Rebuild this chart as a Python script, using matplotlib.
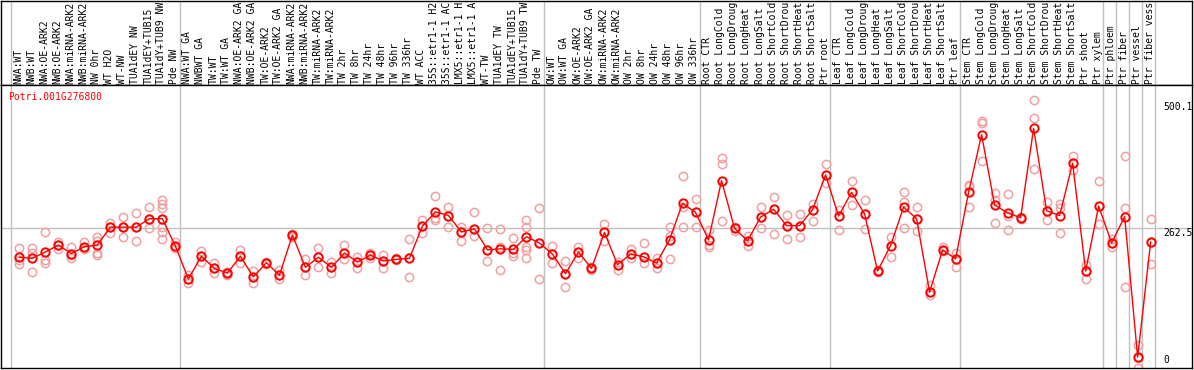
import matplotlib
matplotlib.use('Agg')
import matplotlib.pyplot as plt
import numpy as np

gene = 'Potri.001G276800'

# sample names as shown (the chart cuts them at 14 characters)
samples = ['NWA:WT', 'NWB:WT', 'NWA:OE-ARK2', 'NWB:OE-ARK2', 'NWA:miRNA-ARK2',
           'NWB:miRNA-ARK2', 'NW 0hr', 'WT H2O', 'WT-NW', 'TUA1dEY NW',
           'TUA1dEY+TUB15', 'TUA1dY+TUB9 NW', 'Pde NW',
           'NWA:WT GA', 'NWBWT GA', 'TW:WT', 'TW:WT GA', 'NWA:OE-ARK2 GA',
           'NWB:OE-ARK2 GA', 'TW:OE-ARK2', 'TW:OE-ARK2 GA', 'NWA:miRNA-ARK2',
           'NWB:miRNA-ARK2', 'TW:miRNA-ARK2', 'TW:miRNA-ARK2', 'TW 2hr', 'TW 8hr',
           'TW 24hr', 'TW 48hr', 'TW 96hr', 'TW 336hr', 'WT ACC', '35S::etr1-1 H2',
           '35S::etr1-1 AC', 'LMX5::etr1-1 H', 'LMX5::etr1-1 A', 'WT-TW',
           'TUA1dEY TW', 'TUA1dEY+TUB15', 'TUA1dY+TUB9 TW', 'Pde TW',
           'OW:WT', 'OW:WT GA', 'OW:OE-ARK2', 'OW:OE-ARK2 GA', 'OW:miRNA-ARK2',
           'OW:miRNA-ARK2', 'OW 2hr', 'OW 8hr', 'OW 24hr', 'OW 48hr', 'OW 96hr',
           'OW 336hr',
           'Root CTR', 'Root LongCold', 'Root LongDroug', 'Root LongHeat',
           'Root LongSalt', 'Root ShortCold', 'Root ShortDrou', 'Root ShortHeat',
           'Root ShortSalt', 'Ptr root',
           'Leaf CTR', 'Leaf LongCold', 'Leaf LongDroug', 'Leaf LongHeat',
           'Leaf LongSalt', 'Leaf ShortCold', 'Leaf ShortDrou', 'Leaf ShortHeat',
           'Leaf ShortSalt', 'Ptr leaf',
           'Stem CTR', 'Stem LongCold', 'Stem LongDroug', 'Stem LongHeat',
           'Stem LongSalt', 'Stem ShortCold', 'Stem ShortDrou', 'Stem ShortHeat',
           'Stem ShortSalt', 'Ptr shoot', 'Ptr xylem',
           'Ptr phloem', 'Ptr fiber', 'Ptr vessel', 'Ptr fiber vess']

# samples per group (separator lines drawn between groups)
group_sizes = [13, 28, 12, 10, 10, 11, 1, 1, 1, 1]

means = [207, 205, 217, 230, 214, 227, 230, 264, 264, 264, 280, 280, 228,
         166, 209, 186, 177, 209, 170, 197, 173, 249, 188, 207, 188, 215, 198,
         211, 200, 203, 205, 266, 293, 286, 255, 261, 221, 223, 222, 246, 234,
         213, 176, 217, 186, 254, 193, 213, 208, 196, 240, 309, 292,
         240, 352, 262, 238, 283, 298, 267, 267, 297, 363,
         285, 330, 289, 181, 229, 302, 280, 141, 221, 204,
         330, 439, 306, 291, 282, 451, 295, 286, 385, 181, 304,
         234, 284, 18, 236]

reps = [[224, 202, 194], [224, 216, 179], [254, 202, 196], [235, 230, 222],
        [227, 211, 205], [235, 227, 222], [246, 237, 215, 212], [271, 264, 253],
        [284, 264, 245], [290, 264, 237], [302, 279, 262],
        [315, 308, 300, 279, 265, 255, 241], [235, 228, 224],
        [174, 166, 159], [219, 209, 199], [196, 186, 178], [179, 177, 174],
        [221, 209, 196], [181, 170, 158], [199, 197, 195], [182, 173, 165],
        [252, 249, 246], [204, 188, 173], [224, 207, 188], [199, 188, 178],
        [230, 215, 203], [208, 198, 186], [216, 211, 205], [211, 200, 187],
        [205, 203, 201], [241, 205, 170], [278, 266, 253], [323, 281, 278],
        [302, 286, 265], [265, 255, 238], [293, 261, 248], [262, 221, 200],
        [260, 226, 182], [243, 223, 215, 210], [278, 265, 245, 227, 221, 205],
        [300, 234, 166],
        [229, 213, 196], [200, 176, 150], [227, 217, 206], [189, 186, 183],
        [270, 254, 238], [199, 193, 183], [222, 213, 205], [234, 208, 197],
        [205, 196, 186], [265, 247, 203], [360, 303, 265], [317, 292, 265],
        [259, 230, 226], [395, 383, 276], [265, 262, 256], [247, 238, 229],
        [302, 283, 262], [321, 298, 251], [287, 267, 241], [289, 267, 246],
        [308, 297, 275], [383, 363, 348],
        [297, 285, 259], [352, 330, 306], [316, 289, 260], [183, 181, 179],
        [246, 229, 207], [331, 312, 262], [302, 280, 257], [155, 141, 136],
        [227, 221, 218], [215, 204, 188],
        [344, 341, 303], [465, 462, 389], [328, 316, 271], [326, 285, 259],
        [284, 282, 280], [505, 470, 374], [312, 295, 278], [308, 300, 253],
        [399, 385, 372], [193, 181, 166], [352, 304, 270],
        [241, 234, 227], [399, 300, 150], [41, 17, -3], [279, 236, 194]]

y_ticks = [0, 262.5, 500.1]

W, H = 1194, 370
fig = plt.figure(figsize=(W / 100, H / 100), dpi=100)
mono = 'DejaVu Sans Mono'
fs = 7.0

x = np.arange(len(samples))
xlim = (-1.41, 90.18)
bounds = np.concatenate([[0], np.cumsum(group_sizes)]) - 0.64

# label strip on top
lab = fig.add_axes([1 / W, 285 / H, 1191 / W, 84.5 / H])
lab.set_xlim(*xlim)
lab.set_ylim(0, 85)
lab.set_xticks([])
lab.set_yticks([])
for s in lab.spines.values():
    s.set_linewidth(1)
for b in bounds:
    lab.axvline(b, color='#c0c0c0', lw=1)
for i, name in enumerate(samples):
    lab.text(x[i] - 0.08, 1.5, name, rotation=90, ha='center', va='bottom',
             fontsize=fs, family=mono)

# main plot
ax = fig.add_axes([1 / W, 2 / H, 1191 / W, 283 / H])
ax.set_xlim(*xlim)
ax.set_ylim(-2.5, 533)
ax.set_xticks([])
ax.set_yticks([])
for s in ax.spines.values():
    s.set_linewidth(1)
for b in bounds:
    ax.axvline(b, color='#c0c0c0', lw=1, zorder=0)
ax.axhline(262.5, color='#c0c0c0', lw=1, zorder=0)

for i, r in enumerate(reps):
    ax.plot([x[i]] * len(r), r, 'o', mfc='none', mec='#f0a0a0', ms=6, mew=1.1, zorder=2)
ax.plot(x, means, '-', color='red', lw=1, zorder=3)
ax.plot(x, means, 'o', mfc='none', mec='red', ms=6, mew=1.4, zorder=4)

ax.text(7 / 1191, 0.958, gene, transform=ax.transAxes, color='red',
        fontsize=fs, family=mono, va='center', ha='left')
tx = (1163 - 1) / 1191
for t in y_ticks:
    va = 'bottom' if t == 0 else 'top'
    ax.text(tx, t + (3 if t == 0 else 0), f'{t:g}', transform=ax.get_yaxis_transform(),
            fontsize=fs, family=mono, va=va, ha='left')

fig.savefig('out.png', dpi=100)
